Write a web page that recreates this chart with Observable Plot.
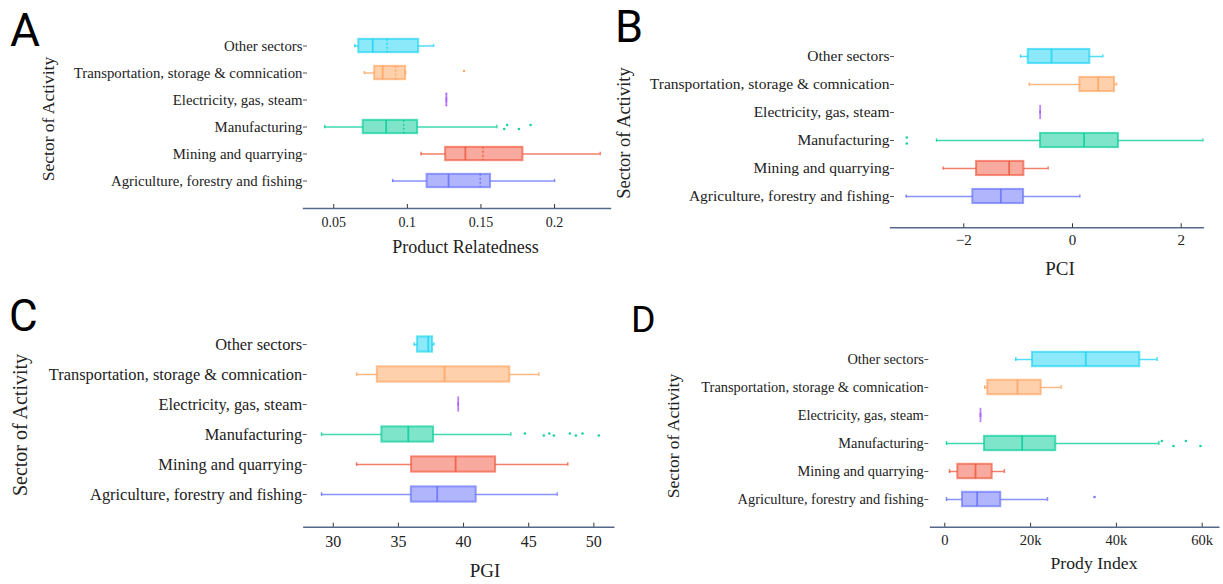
<!DOCTYPE html>
<html>
<head>
<meta charset="utf-8">
<script src="https://cdn.jsdelivr.net/npm/d3@7"></script>
<script src="https://cdn.jsdelivr.net/npm/@observablehq/plot@0.6"></script>
<style>
  body { margin: 0; background: #fff; }
  #fig { position: relative; width: 1223px; height: 584px; overflow: hidden;
         font-family: "Liberation Serif", "Times New Roman", serif; color: #222; }
  #fig svg, #fig svg text { font-family: "Liberation Serif", "Times New Roman", serif; }
  .panel { position: absolute; }
  .letter { position: absolute; font-family: "Roboto", sans-serif; line-height: normal; color: #000; }
  .ytitle { position: absolute; white-space: nowrap; line-height: 1;
            transform: translate(-50%, -50%) rotate(-90deg); }
  .xtitle { position: absolute; white-space: nowrap; line-height: 1; transform: translateX(-50%); }
</style>
</head>
<body>
<div id="fig"></div>
<script>
// Sectors, listed top to bottom, and their colours
const sectors = [
  "Other sectors",
  "Transportation, storage & comnication",
  "Electricity, gas, steam",
  "Manufacturing",
  "Mining and quarrying",
  "Agriculture, forestry and fishing"
];
const sectorColors = ["#19D3F3", "#FFA15A", "#AB63FA", "#00CC96", "#EF553B", "#636EFA"];

// A — Product Relatedness (box statistics per sector, plus means)
const relLow    = [0.0643, 0.0708, 0.1265, 0.0439, 0.1093, 0.0900];
const relQ1     = [0.0670, 0.0778, 0.1265, 0.0700, 0.1260, 0.1134];
const relMedian = [0.0765, 0.0832, 0.1265, 0.0856, 0.1394, 0.1280];
const relMean   = [0.0862, 0.0920, 0.1265, 0.0975, 0.1514, 0.1495];
const relQ3     = [0.1077, 0.0988, 0.1265, 0.1070, 0.1785, 0.1565];
const relHigh   = [0.1178, 0.0988, 0.1265, 0.1608, 0.2310, 0.2000];
const relOutlierSector = [1, 3, 3, 3, 3];
const relOutlierValue  = [0.1385, 0.1658, 0.1678, 0.1758, 0.1837];
const relTicks = [0.05, 0.1, 0.15, 0.2];

// B — PCI
const pciLow    = [-0.957, -0.797, -0.595, -2.502, -2.379, -3.060];
const pciQ1     = [-0.815,  0.135, -0.595, -0.589, -1.766, -1.834];
const pciMedian = [-0.386,  0.472, -0.595,  0.214, -1.166, -1.319];
const pciQ3     = [ 0.319,  0.773, -0.595,  0.846, -0.895, -0.900];
const pciHigh   = [ 0.558,  0.810, -0.595,  2.400, -0.448,  0.135];
const pciOutlierSector = [3, 3];
const pciOutlierValue  = [-3.05, -3.05];
const pciTicks = [-2, 0, 2];

// C — PGI
const pgiLow    = [36.22, 31.79, 39.59, 29.10, 31.79, 29.10];
const pgiQ1     = [36.47, 33.38, 39.59, 33.73, 36.01, 35.99];
const pgiMedian = [37.29, 38.54, 39.59, 35.76, 39.39, 37.98];
const pgiQ3     = [37.62, 43.55, 39.59, 37.70, 42.46, 40.97];
const pgiHigh   = [37.72, 45.78, 39.59, 43.63, 48.00, 47.19];
const pgiOutlierSector = [3, 3, 3, 3, 3, 3, 3, 3];
const pgiOutlierValue  = [44.71, 46.16, 46.58, 46.93, 48.16, 48.62, 49.13, 50.38];
const pgiTicks = [30, 35, 40, 45, 50];

// D — Prody Index
const prodyLow    = [16550,  9320, 8320,   400,  1100,   400];
const prodyQ1     = [20440, 10020, 8320,  9250,  3030,  4130];
const prodyMedian = [32870, 16950, 8320, 18040,  7160,  7550];
const prodyQ3     = [45450, 22470, 8320, 25870, 11050, 13050];
const prodyHigh   = [49500, 27130, 8320, 49900, 13900, 23940];
const prodyOutlierSector = [3, 3, 3, 3, 5];
const prodyOutlierValue  = [50600, 53300, 56200, 59600, 34900];
const prodyTicks = [0, 20000, 40000, 60000];

const axisColor = "#56688a";

function boxPanel(o) {
  const step = (o.yRange[1] - o.yRange[0]) / sectors.length;
  const inset = (step - o.boxH) / 2;
  const capInset = (step - 4) / 2;
  const rows = sectors.map((s, i) => ({
    sector: s, color: sectorColors[i],
    lo: o.lo[i], q1: o.q1[i], med: o.med[i], q3: o.q3[i], hi: o.hi[i],
    mean: o.mean ? o.mean[i] : null
  }));
  const outs = o.outValue.map((v, i) => ({
    sector: sectors[o.outSector[i]], color: sectorColors[o.outSector[i]], value: v, k: i
  }));
  const lineStyle = {stroke: "color", strokeOpacity: 0.75, strokeWidth: 1.5};
  return Plot.plot({
    width: o.width, height: o.height,
    marginLeft: o.marginLeft, marginRight: o.marginRight,
    marginTop: 0, marginBottom: o.height - o.frameBottom,
    style: {fontFamily: "'Liberation Serif', 'Times New Roman', serif", background: "transparent", color: "#222"},
    x: {domain: o.domain, label: null},
    y: {domain: sectors, range: o.yRange, padding: 0, label: null},
    color: {type: "identity"},
    marks: [
      Plot.ruleY(rows, {y: "sector", x1: "lo", x2: "q1", ...lineStyle}),
      Plot.ruleY(rows, {y: "sector", x1: "q3", x2: "hi", ...lineStyle}),
      Plot.tickX(rows, {x: "lo", y: "sector", insetTop: capInset, insetBottom: capInset, ...lineStyle}),
      Plot.tickX(rows, {x: "hi", y: "sector", insetTop: capInset, insetBottom: capInset, ...lineStyle}),
      Plot.barX(rows, {y: "sector", x1: "q1", x2: "q3", fill: "color", fillOpacity: 0.5,
        stroke: "color", strokeOpacity: 0.65, strokeWidth: 2, insetTop: inset, insetBottom: inset}),
      Plot.tickX(rows, {x: "med", y: "sector", stroke: "color", strokeOpacity: 0.8, strokeWidth: 1.8,
        insetTop: inset, insetBottom: inset}),
      o.mean ? Plot.tickX(rows, {x: "mean", y: "sector", stroke: "color", strokeOpacity: 0.85, strokeWidth: 1.5,
        strokeDasharray: "2,2", insetTop: inset, insetBottom: inset}) : null,
      Plot.dot(outs, {filter: d => d.k % 2 === 0, x: "value", y: "sector", dy: -o.jitter, r: 1.3, fill: "color", fillOpacity: 0.9}),
      Plot.dot(outs, {filter: d => d.k % 2 === 1, x: "value", y: "sector", dy: o.jitter, r: 1.3, fill: "color", fillOpacity: 0.9}),
      Plot.frame({anchor: "bottom", stroke: axisColor, strokeWidth: 1.4}),
      Plot.axisX({ticks: o.ticks, tickFormat: o.tickFormat, tickSize: 4, dy: -4, tickPadding: o.xPad,
        fontSize: o.xFont, stroke: "#333", fill: "#222", label: null}),
      Plot.axisY({tickSize: 4, tickPadding: 1, dx: o.yDx, fontSize: o.yFont, stroke: "#555", fill: "#222", label: null})
    ]
  });
}

const fig = document.getElementById("fig");
function place(node, left, top) {
  node.classList.add("panel");
  node.style.left = left + "px";
  node.style.top = top + "px";
  fig.appendChild(node);
}
function addText(cls, text, css) {
  const d = document.createElement("div");
  d.className = cls;
  d.textContent = text;
  Object.assign(d.style, css);
  fig.appendChild(d);
}

// A
place(boxPanel({
  width: 612, height: 290, marginLeft: 303, marginRight: 2, frameBottom: 208,
  yRange: [29.5, 195.5], domain: [0.02944, 0.238], boxH: 14,
  lo: relLow, q1: relQ1, med: relMedian, mean: relMean, q3: relQ3, hi: relHigh,
  outSector: relOutlierSector, outValue: relOutlierValue, jitter: 2,
  ticks: relTicks, tickFormat: d => String(d), xFont: 14, xPad: 8.5, yFont: 14.8, yDx: 4
}), 0, 0);

// B
place(boxPanel({
  width: 611, height: 290, marginLeft: 278, marginRight: 20.3, frameBottom: 227.3,
  yRange: [39.6, 212.7], domain: [-3.349, 2.405], boxH: 15,
  lo: pciLow, q1: pciQ1, med: pciMedian, q3: pciQ3, hi: pciHigh,
  outSector: pciOutlierSector, outValue: pciOutlierValue, jitter: 3,
  ticks: pciTicks, tickFormat: d3.format(""), xFont: 15, xPad: 6.5, yFont: 15.5, yDx: 4
}), 612, 0);

// C
place(boxPanel({
  width: 620, height: 294, marginLeft: 303.3, marginRight: 6.7, frameBottom: 236.7,
  yRange: [37.5, 220.2], domain: [27.74, 51.53], boxH: 15.7,
  lo: pgiLow, q1: pgiQ1, med: pgiMedian, q3: pgiQ3, hi: pgiHigh,
  outSector: pgiOutlierSector, outValue: pgiOutlierValue, jitter: 1,
  ticks: pgiTicks, tickFormat: d3.format(""), xFont: 16, xPad: 8, yFont: 16.4, yDx: 3.4
}), 0, 290);

// D
place(boxPanel({
  width: 603, height: 294, marginLeft: 310, marginRight: 4.7, frameBottom: 236.7,
  yRange: [55, 223], domain: [-3330, 63870], boxH: 14.4,
  lo: prodyLow, q1: prodyQ1, med: prodyMedian, q3: prodyQ3, hi: prodyHigh,
  outSector: prodyOutlierSector, outValue: prodyOutlierValue, jitter: 2.5,
  ticks: prodyTicks, tickFormat: d3.format("~s"), xFont: 14.5, xPad: 7.5, yFont: 14.4, yDx: -1.7
}), 620, 290);

// Panel letters
addText("letter", "A", {left: "10px", top: "2.5px", fontSize: "46px"});
addText("letter", "B", {left: "615px", top: "0px", fontSize: "45px"});
addText("letter", "C", {left: "9px", top: "290px", fontSize: "44px"});
addText("letter", "D", {left: "631px", top: "297px", fontSize: "37.5px"});

// Axis titles
addText("ytitle", "Sector of Activity", {left: "49px", top: "119px", fontSize: "17.5px"});
addText("ytitle", "Sector of Activity", {left: "624px", top: "132.5px", fontSize: "18.5px"});
addText("ytitle", "Sector of Activity", {left: "20px", top: "425px", fontSize: "20px"});
addText("ytitle", "Sector of Activity", {left: "674px", top: "436px", fontSize: "17.5px"});

addText("xtitle", "Product Relatedness", {left: "465.5px", top: "238px", fontSize: "18px"});
addText("xtitle", "PCI", {left: "1060px", top: "259px", fontSize: "19px"});
addText("xtitle", "PGI", {left: "485px", top: "561px", fontSize: "19px"});
addText("xtitle", "Prody Index", {left: "1094px", top: "555px", fontSize: "17.7px"});
</script>
</body>
</html>
